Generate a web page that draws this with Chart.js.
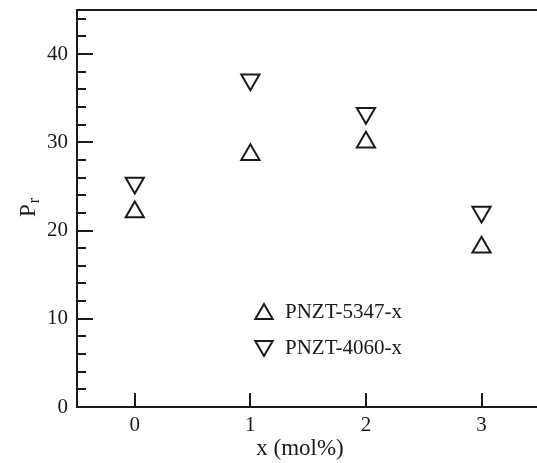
<!DOCTYPE html>
<html>
<head>
<meta charset="utf-8">
<script src="https://cdn.jsdelivr.net/npm/chart.js@4/dist/chart.umd.min.js"></script>
<style>
  html, body { margin: 0; padding: 0; background: #fff; overflow: hidden; }
  canvas { display: block; }
</style>
</head>
<body>
<canvas id="pr" width="537" height="463"></canvas>
<script>
// x (mol%) positions and Pr values
const xValues = [0, 1, 2, 3];
const pnzt5347 = [22.1, 28.6, 30.0, 18.1];
const pnzt4060 = [25.4, 37.1, 33.3, 22.1];
const seriesNames = ['PNZT-5347-x', 'PNZT-4060-x'];
const xTicks = [0, 1, 2, 3];
const yTicks = [0, 10, 20, 30, 40];
const yMinorStep = 2;

const serif = '"Liberation Serif", "DejaVu Serif", serif';
const ink = '#1a1a1a';

function toPoints(values) {
    return xValues.map((x, i) => ({ x: x, y: values[i] }));
}

function triangle(ctx, x, y, r, down) {
    const s = down ? -1 : 1;
    ctx.beginPath();
    ctx.moveTo(x, y - s * r);
    ctx.lineTo(x + r * Math.sqrt(3) / 2, y + s * r / 2);
    ctx.lineTo(x - r * Math.sqrt(3) / 2, y + s * r / 2);
    ctx.closePath();
    ctx.stroke();
}

// inward ticks, top frame line, axis titles and the in-plot legend
const framePlugin = {
    id: 'frame',
    afterDraw(chart) {
        const ctx = chart.ctx;
        const area = chart.chartArea;
        const xs = chart.scales.x;
        const ys = chart.scales.y;
        ctx.save();
        ctx.strokeStyle = ink;
        ctx.fillStyle = ink;
        ctx.lineWidth = 2;

        // top line
        ctx.beginPath();
        ctx.moveTo(area.left, area.top);
        ctx.lineTo(area.right, area.top);
        ctx.stroke();

        // y ticks (major 10, minor 2)
        for (let v = ys.min; v <= ys.max + 1e-9; v += yMinorStep) {
            if (v === 0) continue;
            const py = Math.round(ys.getPixelForValue(v));
            const len = yTicks.includes(v) ? 16 : 9;
            ctx.beginPath();
            ctx.moveTo(area.left, py);
            ctx.lineTo(area.left + len, py);
            ctx.stroke();
        }

        // x ticks
        xTicks.forEach(v => {
            const px = Math.round(xs.getPixelForValue(v));
            ctx.beginPath();
            ctx.moveTo(px, area.bottom);
            ctx.lineTo(px, area.bottom - 14);
            ctx.stroke();
        });

        // x title
        ctx.font = '23px ' + serif;
        ctx.textAlign = 'center';
        ctx.textBaseline = 'middle';
        ctx.fillText('x (mol%)', 300, 449);

        // y title with subscript
        ctx.save();
        ctx.translate(27, 208);
        ctx.rotate(-Math.PI / 2);
        ctx.textAlign = 'left';
        ctx.textBaseline = 'alphabetic';
        ctx.font = '23px ' + serif;
        const pw = ctx.measureText('P').width;
        ctx.font = '16px ' + serif;
        const rw = ctx.measureText('r').width;
        const startX = -(pw + rw) / 2;
        ctx.font = '23px ' + serif;
        ctx.fillText('P', startX, 8);
        ctx.font = '16px ' + serif;
        ctx.fillText('r', startX + pw + 1, 12);
        ctx.restore();

        // legend
        ctx.lineWidth = 2;
        ctx.font = '21px ' + serif;
        ctx.textAlign = 'left';
        ctx.textBaseline = 'middle';
        triangle(ctx, 264, 314, 10, false);
        ctx.fillText(seriesNames[0], 285, 312);
        triangle(ctx, 264, 346, 10, true);
        ctx.fillText(seriesNames[1], 285, 348);

        ctx.restore();
    }
};

const ctx = document.getElementById('pr').getContext('2d');
new Chart(ctx, {
    type: 'scatter',
    data: {
        datasets: [
            {
                label: seriesNames[0],
                data: toPoints(pnzt5347),
                pointStyle: 'triangle',
                rotation: 0,
                radius: 10.5,
                borderWidth: 2,
                borderColor: ink,
                backgroundColor: 'rgba(0,0,0,0)'
            },
            {
                label: seriesNames[1],
                data: toPoints(pnzt4060),
                pointStyle: 'triangle',
                rotation: 180,
                radius: 10.5,
                borderWidth: 2,
                borderColor: ink,
                backgroundColor: 'rgba(0,0,0,0)'
            }
        ]
    },
    options: {
        responsive: false,
        animation: false,
        layout: { autoPadding: false, padding: { top: 10, right: 0, left: 0, bottom: 0 } },
        plugins: {
            legend: { display: false },
            tooltip: { enabled: false }
        },
        scales: {
            x: {
                type: 'linear',
                min: -0.5,
                max: 3.48,
                afterBuildTicks: s => { s.ticks = xTicks.map(v => ({ value: v })); },
                afterFit: s => { s.height = 56; s.paddingLeft = 0; s.paddingRight = 0; },
                grid: { display: false, drawTicks: false },
                border: { display: true, color: ink, width: 2 },
                ticks: {
                    padding: 6,
                    color: ink,
                    font: { family: serif, size: 21 },
                    autoSkip: false,
                    maxRotation: 0
                }
            },
            y: {
                min: 0,
                max: 45,
                afterBuildTicks: s => { s.ticks = yTicks.map(v => ({ value: v })); },
                afterFit: s => { s.width = 77; s.paddingTop = 0; s.paddingBottom = 0; },
                grid: { display: false, drawTicks: false },
                border: { display: true, color: ink, width: 2 },
                ticks: {
                    padding: 9,
                    color: ink,
                    font: { family: serif, size: 21 }
                }
            }
        }
    },
    plugins: [framePlugin]
});
</script>
</body>
</html>
